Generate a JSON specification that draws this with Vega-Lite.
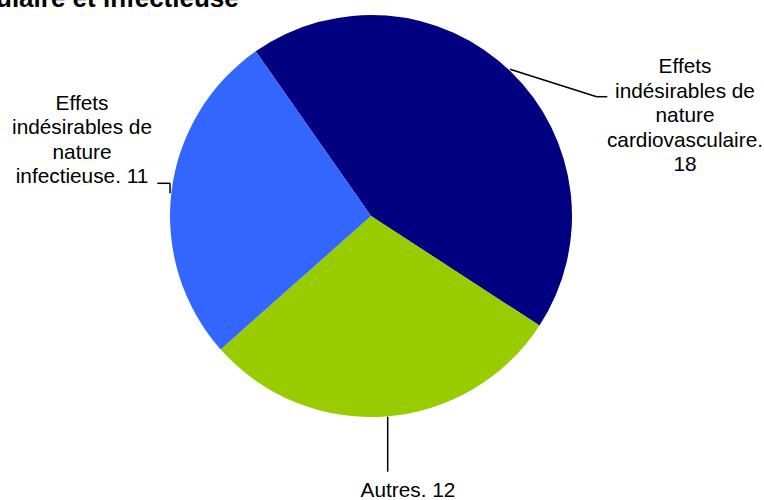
{
  "$schema": "https://vega.github.io/schema/vega-lite/v6.json",
  "width": 742,
  "height": 432,
  "autosize": {"type": "none"},
  "padding": {"left": 0, "top": 0, "right": 22, "bottom": 68},
  "background": "white",
  "config": {"view": {"stroke": null}, "font": "Liberation Sans"},
  "datasets": {
    "parts": [
      {"categorie": "Effets indésirables de nature cardiovasculaire", "valeur": 18, "ordre": 1},
      {"categorie": "Autres", "valeur": 12, "ordre": 2},
      {"categorie": "Effets indésirables de nature infectieuse", "valeur": 11, "ordre": 3}
    ],
    "etiquettes": [
      {"texte": "Effets\nindésirables de\nnature\ncardiovasculaire.\n18", "px": 1.5622, "py": 0.7114},
      {"texte": "Effets\nindésirables de\nnature\ninfectieuse. 11", "px": -1.4378, "py": 0.5274},
      {"texte": "Autres. 12", "px": 0.1841, "py": -1.398}
    ],
    "traits": [
      {"ax": 0.6915, "ay": 0.7299, "bx": 1.1229, "by": 0.5935},
      {"ax": 1.1229, "ay": 0.5935, "bx": 1.1756, "by": 0.5935},
      {"ax": -1.0632, "ay": 0.1627, "bx": -1.0, "by": 0.1627},
      {"ax": -1.0, "ay": 0.1627, "bx": -1.0, "by": 0.1129},
      {"ax": 0.0831, "ay": -0.9985, "bx": 0.0831, "by": -1.2721}
    ],
    "titre": [
      {"texte": "ulaire et infectieuse", "px": -1.8657, "py": 1.0398}
    ]
  },
  "layer": [
    {
      "data": {"name": "parts"},
      "mark": {"type": "arc", "outerRadius": 201},
      "encoding": {
        "theta": {"field": "valeur", "type": "quantitative", "stack": true,
                  "scale": {"range": [-0.611, 5.6722]}},
        "order": {"field": "ordre", "type": "quantitative", "sort": "ascending"},
        "color": {"field": "categorie", "type": "nominal", "legend": null,
                  "scale": {"domain": ["Effets indésirables de nature cardiovasculaire", "Autres", "Effets indésirables de nature infectieuse"],
                            "range": ["#000080", "#99CC00", "#3366FF"]}}
      }
    },
    {
      "data": {"name": "traits"},
      "mark": {"type": "rule", "color": "#000000", "strokeWidth": 1.5},
      "encoding": {
        "x": {"field": "ax", "type": "quantitative", "axis": null, "scale": {"domain": [-1.8458, 1.8458], "nice": false, "zero": false}},
        "y": {"field": "ay", "type": "quantitative", "axis": null, "scale": {"domain": [-1.0746, 1.0746], "nice": false, "zero": false}},
        "x2": {"field": "bx"},
        "y2": {"field": "by"}
      }
    },
    {
      "data": {"name": "etiquettes"},
      "mark": {"type": "text", "align": "center", "baseline": "alphabetic", "lineBreak": "\n", "lineHeight": 24.5, "fontSize": 20.8, "color": "#000000"},
      "encoding": {
        "x": {"field": "px", "type": "quantitative", "axis": null, "scale": {"domain": [-1.8458, 1.8458], "nice": false, "zero": false}},
        "y": {"field": "py", "type": "quantitative", "axis": null, "scale": {"domain": [-1.0746, 1.0746], "nice": false, "zero": false}},
        "text": {"field": "texte"}
      }
    },
    {
      "data": {"name": "titre"},
      "mark": {"type": "text", "align": "left", "baseline": "alphabetic", "fontSize": 26, "fontWeight": "bold", "color": "#000000"},
      "encoding": {
        "x": {"field": "px", "type": "quantitative", "axis": null, "scale": {"domain": [-1.8458, 1.8458], "nice": false, "zero": false}},
        "y": {"field": "py", "type": "quantitative", "axis": null, "scale": {"domain": [-1.0746, 1.0746], "nice": false, "zero": false}},
        "text": {"field": "texte"}
      }
    }
  ]
}
